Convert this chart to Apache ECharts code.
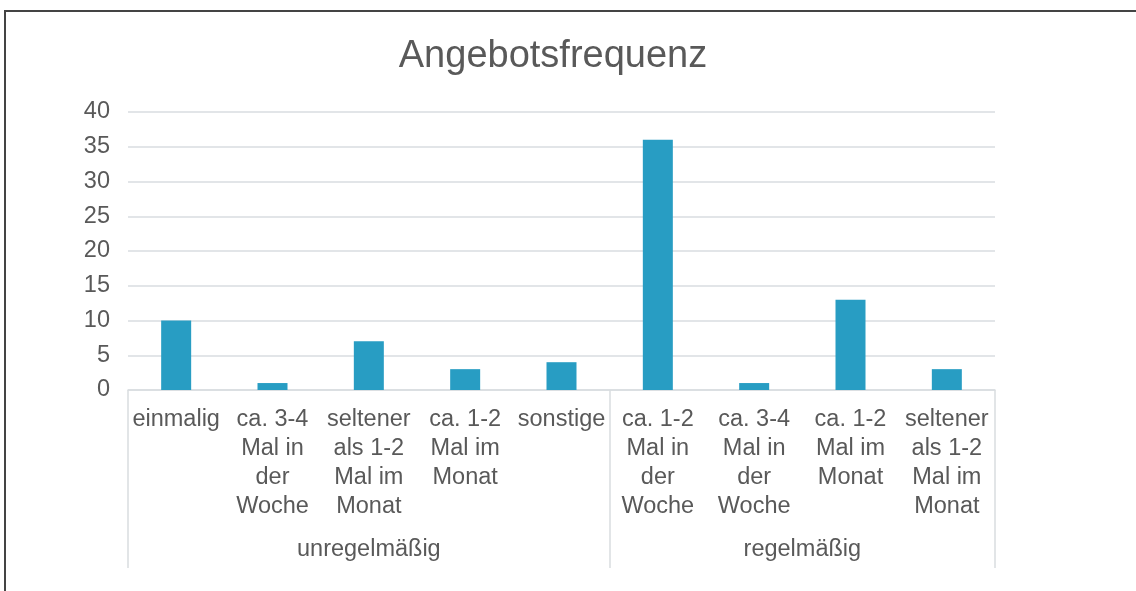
<!DOCTYPE html>
<html>
<head>
<meta charset="utf-8">
<script src="https://cdn.jsdelivr.net/npm/echarts@6/dist/echarts.min.js"></script>
<style>
  html, body { margin: 0; padding: 0; background: #fff; }
  #chart { width: 1136px; height: 591px; }
  .frame {
    position: absolute;
    left: 4px;
    top: 10px;
    right: 0;
    bottom: 0;
    border-top: 2px solid #444;
    border-left: 2px solid #444;
    pointer-events: none;
  }
</style>
</head>
<body>
<div id="chart"></div>
<div class="frame"></div>
<script>
const categories = [
  'einmalig',
  'ca. 3-4\nMal in\nder\nWoche',
  'seltener\nals 1-2\nMal im\nMonat',
  'ca. 1-2\nMal im\nMonat',
  'sonstige',
  'ca. 1-2\nMal in\nder\nWoche',
  'ca. 3-4\nMal in\nder\nWoche',
  'ca. 1-2\nMal im\nMonat',
  'seltener\nals 1-2\nMal im\nMonat',
]
const values = [10, 1, 7, 3, 4, 36, 1, 13, 3]
const groupNames = ['unregelmäßig', 'regelmäßig']
const groupSizes = [5, 4]

// group boundaries and centres on a 0..n scale
const boundaries = [0]
groupSizes.forEach((n) => boundaries.push(boundaries[boundaries.length - 1] + n))
const centres = groupSizes.map((n, i) => boundaries[i] + n / 2)

const textColor = '#595959'
const gridColor = '#d9dde0'
const font = '"Liberation Sans", Arial, sans-serif'

const chart = echarts.init(document.getElementById('chart'), null, { renderer: 'canvas' })

chart.setOption({
  animation: false,
  backgroundColor: '#fff',
  title: {
    text: 'Angebotsfrequenz',
    left: 548,
    textAlign: 'center',
    top: 33,
    textStyle: { color: textColor, fontFamily: font, fontSize: 38, fontWeight: 'normal' },
  },
  grid: { left: 128, right: 141, top: 112, bottom: 201 },
  xAxis: [
    {
      type: 'category',
      data: categories,
      axisLine: { lineStyle: { color: gridColor, width: 1.5 } },
      axisTick: { show: false },
      axisLabel: {
        interval: 0,
        margin: 15,
        color: textColor,
        fontFamily: font,
        fontSize: 23.5,
        lineHeight: 29,
        align: 'center',
        verticalAlign: 'top',
      },
    },
    {
      type: 'value',
      position: 'bottom',
      min: 0,
      max: categories.length,
      axisLine: { show: false },
      splitLine: { show: false },
      axisTick: {
        show: true,
        customValues: boundaries,
        length: 178,
        lineStyle: { color: gridColor, width: 1.5 },
      },
      axisLabel: {
        customValues: centres,
        margin: 148,
        color: textColor,
        fontFamily: font,
        fontSize: 23.5,
        formatter(v) {
          const i = centres.findIndex((c) => Math.abs(c - v) < 1e-6)
          return i >= 0 ? groupNames[i] : ''
        },
      },
    },
  ],
  yAxis: {
    type: 'value',
    min: 0,
    max: 40,
    interval: 5,
    axisLine: { show: false },
    axisTick: { show: false },
    axisLabel: { color: textColor, fontFamily: font, fontSize: 23.5, margin: 18 },
    splitLine: { lineStyle: { color: gridColor, width: 1.5 } },
  },
  series: [
    {
      type: 'bar',
      xAxisIndex: 0,
      data: values,
      barWidth: 30,
      itemStyle: { color: '#289dc3' },
    },
  ],
})
</script>
</body>
</html>
